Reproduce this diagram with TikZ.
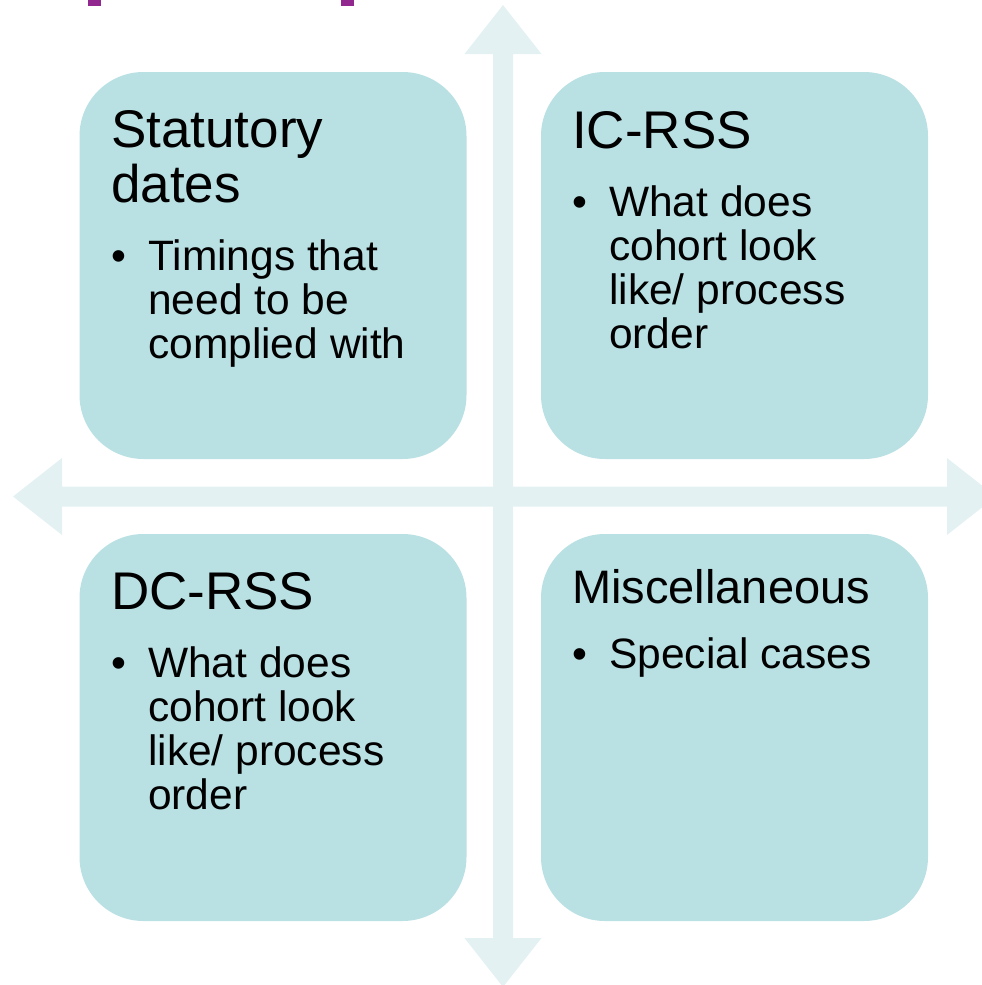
\documentclass[tikz,border=0pt]{standalone}
\usepackage{fontspec}
\setmainfont{Liberation Sans}
\definecolor{boxfill}{HTML}{B9E0E3}
\definecolor{arrowfill}{HTML}{E4F1F3}
\definecolor{purplemark}{HTML}{92278F}
\tikzset{
  quadbox/.style={fill=boxfill, draw=none, rounded corners=64pt, minimum width=387pt, minimum height=387pt, inner sep=0pt},
  titletext/.style={anchor=base west, inner sep=0pt, font=\fontsize{53}{55}\selectfont},
  smalltitle/.style={anchor=base west, inner sep=0pt, font=\fontsize{47}{50}\selectfont},
  bullettext/.style={anchor=base west, inner sep=0pt, font=\fontsize{42.5}{44}\selectfont},
}
\newcommand{\bul}[1]{\makebox[37pt][l]{\textbullet}\parbox[t]{320pt}{\raggedright #1}}
\begin{document}
\begin{tikzpicture}[x=1pt,y=-1pt]
\useasboundingbox (0,0) rectangle (982,985);
\begin{scope}
\clip (0,0) rectangle (982,985);
% purple marks at top
\fill[purplemark] (88,0) rectangle (101,6);
\fill[purplemark] (341,0) rectangle (354,6);
% four-way arrow
\fill[arrowfill] (503,5) -- (541.5,54) -- (513,54) -- (513,486.5) -- (947,486.5) -- (947,458)
  -- (996,496.5) -- (947,535) -- (947,506.5) -- (513,506.5) -- (513,938) -- (541.5,938)
  -- (503,987) -- (464.5,938) -- (493,938) -- (493,506.5) -- (62,506.5) -- (62,535)
  -- (13,496.5) -- (62,458) -- (62,486.5) -- (493,486.5) -- (493,54) -- (464.5,54) -- cycle;
\end{scope}
% boxes
\node[quadbox] (tl) at (273,265.5) {};
\node[quadbox] (tr) at (734.5,265.5) {};
\node[quadbox] (bl) at (273,727.5) {};
\node[quadbox] (br) at (734.5,727.5) {};
% texts
\node[titletext] (tlt) at (111,147) {\parbox[t]{340pt}{Statutory\\dates}};
\node[bullettext] (tlb) at (111,270) {\bul{Timings that\\need to be\\complied with}};
\node[titletext] (trt) at (572,148) {IC-RSS};
\node[bullettext] (trb) at (572,216) {\bul{What does\\cohort look\\like/ process\\order}};
\node[titletext] (blt) at (111,609) {DC-RSS};
\node[bullettext] (blb) at (111,677) {\bul{What does\\cohort look\\like/ process\\order}};
\node[smalltitle] (brt) at (572,603) {Miscellaneous};
\node[bullettext] (brb) at (572,668) {\bul{Special cases}};
\end{tikzpicture}
\end{document}
